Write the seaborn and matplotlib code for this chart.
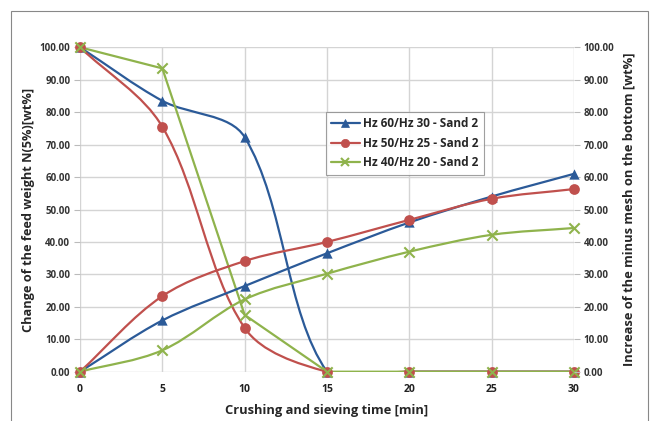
import numpy as np
import matplotlib
matplotlib.use("Agg")
import matplotlib.pyplot as plt
from matplotlib.path import Path
from matplotlib.patches import PathPatch, Rectangle
from matplotlib.lines import Line2D
import seaborn as sns

time_min = [0, 5, 10, 15, 20, 25, 30]

# change of the feed weight (left axis)
feed_hz60 = [100.0, 83.5, 72.3, 0.0, 0.0, 0.0, 0.0]
feed_hz50 = [100.0, 75.5, 13.5, 0.0, 0.0, 0.0, 0.0]
feed_hz40 = [100.0, 93.5, 17.5, 0.0, 0.0, 0.0, 0.0]

# increase of the minus mesh on the bottom (right axis)
minus_hz60 = [0.0, 15.8, 26.4, 36.5, 46.0, 54.0, 61.0]
minus_hz50 = [0.0, 23.3, 34.1, 40.0, 46.8, 53.3, 56.3]
minus_hz40 = [0.0, 6.6, 22.3, 30.2, 37.0, 42.2, 44.3]

labels = ["Hz 60/Hz 30 - Sand 2", "Hz 50/Hz 25 - Sand 2", "Hz 40/Hz 20 - Sand 2"]
colors = ["#2B5A98", "#C0504D", "#8FB34C"]
markers = ["^", "o", "x"]
msizes = [55, 60, 55]

sns.set_style("white")
plt.rcParams['font.family'] = ['Open Sans', 'DejaVu Sans']

FIG_W, FIG_H = 6.56, 4.21
AX_RECT = [80 / 656, 1 - 371.7 / 421, 494 / 656, 324.4 / 421]
SX = AX_RECT[2] * FIG_W * 100 / 30.0   # px per minute
SY = AX_RECT[3] * FIG_H * 100 / 100.0  # px per wt%


def smooth_path(x, y, smooth=True):
    # excel-like smoothed line, tangents weighted by segment length on screen
    pts = np.column_stack([x, y]).astype(float)
    if not smooth:
        return Path(pts)
    scr = pts * [SX, SY]
    n = len(pts)
    verts = [pts[0]]
    codes = [Path.MOVETO]
    for i in range(n - 1):
        i0, i3 = max(i - 1, 0), min(i + 2, n - 1)
        p0, p1, p2, p3 = scr[i0], scr[i], scr[i + 1], scr[i3]
        d01 = np.hypot(*(p1 - p0))
        d12 = np.hypot(*(p2 - p1))
        d23 = np.hypot(*(p3 - p2))
        c1 = p1 + (p2 - p0) * d12 / (3 * (d01 + d12))
        c2 = p2 - (p3 - p1) * d12 / (3 * (d12 + d23))
        verts += [c1 / [SX, SY], c2 / [SX, SY], pts[i + 1]]
        codes += [Path.CURVE4] * 3
    return Path(verts, codes)


fig = plt.figure(figsize=(FIG_W, FIG_H), dpi=100)
ax = fig.add_axes(AX_RECT)
ax2 = ax.twinx()

groups = [((feed_hz60, feed_hz50, feed_hz40), ax, (True, True, False)),
          ((minus_hz60, minus_hz50, minus_hz40), ax2, (True, True, True))]
for series, axis, smooth_flags in groups:
    for vals, c, m, s, sm in zip(series, colors, markers, msizes, smooth_flags):
        axis.add_patch(PathPatch(smooth_path(time_min, vals, sm), facecolor="none",
                                 edgecolor=c, lw=1.6, zorder=3))
        sns.scatterplot(x=time_min, y=vals, ax=axis, color=c, marker=m, s=s,
                        linewidth=1.5 if m == "x" else 0, edgecolor=c,
                        zorder=4, legend=False)

for a in (ax, ax2):
    a.set_xlim(0, 30)
    a.set_ylim(0, 100)
    a.set_yticks(np.arange(0, 101, 10))
    a.set_yticklabels([f"{v:.2f}" for v in np.arange(0, 101, 10)],
                      fontsize=7, fontweight="bold", color="#333333")
    for sp in a.spines.values():
        sp.set_visible(False)
    for coll in a.collections:
        coll.set_clip_on(False)

ax.set_xticks(time_min)
ax.set_xticklabels([str(t) for t in time_min], fontsize=7.5, fontweight="bold", color="#222222")
ax.grid(True, color="#D4D4D4", lw=1.0)
ax.set_axisbelow(True)
ax.tick_params(axis="y", length=4, color="#BBBBBB", pad=3)
ax.tick_params(axis="x", length=0, pad=9)
ax2.tick_params(axis="y", length=4, color="#BBBBBB", pad=3)

ax.set_xlabel("Crushing and sieving time [min]", fontsize=9.3, fontweight="bold", labelpad=6)
ax.set_ylabel("Change of the feed weight N(5%)[wt%]", fontsize=9.2, fontweight="bold", labelpad=3)
ax2.set_ylabel("Increase of the minus mesh on the bottom [wt%]", fontsize=9.3,
               fontweight="bold", labelpad=6)

handles = [Line2D([0], [0], color=c, marker=m, lw=1.6, markersize=6,
                  markeredgewidth=1.5 if m == "x" else 0.5)
           for c, m in zip(colors, markers)]
leg = ax2.legend(handles, labels, loc="upper left",
                 bbox_to_anchor=(326 / 656, 1 - 112 / 421), bbox_transform=fig.transFigure,
                 borderaxespad=0, frameon=True, fancybox=False, edgecolor="#888888",
                 prop={"weight": "bold", "size": 8.5}, handlelength=2.4,
                 handletextpad=0.3, borderpad=0.45, labelspacing=0.55)
leg.get_frame().set_linewidth(0.8)

fig.patches.append(Rectangle((11 / 656, -0.05), (648 - 11) / 656, 1.05 - 11 / 421,
                             transform=fig.transFigure, fill=False,
                             edgecolor="#888888", lw=0.8))

fig.savefig("out.png", dpi=100)
